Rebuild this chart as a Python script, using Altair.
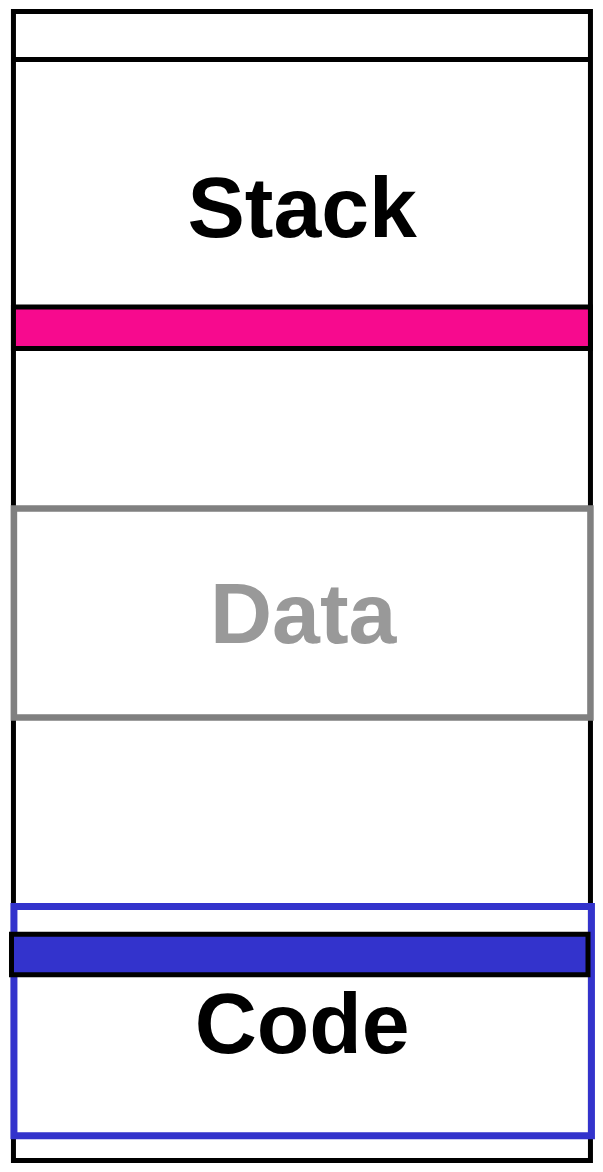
import altair as alt
import pandas as pd

# Memory map segment boundaries (in diagram units, top = 0)
outer_left, outer_right = [9], [598.5]
outer_top, outer_bottom = [6.5], [1169.5]
top_gap_line = [55]

stack_bar_top, stack_bar_bottom = [305.5], [347.5]
data_left, data_right = [9.5], [598.5]
data_top, data_bottom = [509.5], [721]
code_left, code_right = [9.5], [599.5]
code_top, code_bottom = [912.5], [1144.5]
code_bar_left, code_bar_right = [7], [596]
code_bar_top, code_bar_bottom = [940.5], [981.5]

labels = ["Stack", "Data", "Code"]
label_x = [304, 305, 304]
label_base = [235, 646, 1061]

X = alt.Scale(domain=[6.5, 601.1], nice=False, zero=False)
Y = alt.Scale(domain=[4.0, 1172.0], nice=False, zero=False, reverse=True)


def box(l, r, t, b, **mark):
    df = pd.DataFrame({"l": l, "r": r, "t": t, "b": b})
    return alt.Chart(df).mark_rect(clip=False, **mark).encode(
        x=alt.X("l:Q", scale=X, axis=None),
        x2="r:Q",
        y=alt.Y("t:Q", scale=Y, axis=None),
        y2="b:Q",
    )


outer = box(outer_left, outer_right, outer_top, outer_bottom,
            fill="transparent", stroke="#000000", strokeWidth=5)

gap_line = alt.Chart(pd.DataFrame({"l": outer_left, "r": outer_right, "y": top_gap_line})).mark_rule(
    color="#000000", strokeWidth=5, clip=False
).encode(
    x=alt.X("l:Q", scale=X, axis=None), x2="r:Q",
    y=alt.Y("y:Q", scale=Y, axis=None),
)

stack_bar = box(outer_left, outer_right, stack_bar_top, stack_bar_bottom,
                fill="#F70A8E", stroke="#000000", strokeWidth=5)

data_box = box(data_left, data_right, data_top, data_bottom,
               fill="transparent", stroke="#808080", strokeWidth=6.5)

code_box = box(code_left, code_right, code_top, code_bottom,
               fill="transparent", stroke="#3333CC", strokeWidth=7)

code_bar = box(code_bar_left, code_bar_right, code_bar_top, code_bar_bottom,
               fill="#3333CC", stroke="#000000", strokeWidth=5)

text_df = pd.DataFrame({"label": labels, "x": label_x, "y": label_base})
texts = alt.Chart(text_df).mark_text(
    font="Liberation Sans", fontWeight="bold", fontSize=86,
    align="center", baseline="alphabetic", clip=False
).encode(
    x=alt.X("x:Q", scale=X, axis=None),
    y=alt.Y("y:Q", scale=Y, axis=None),
    text="label:N",
    color=alt.Color("label:N", scale=alt.Scale(domain=labels, range=["#000000", "#999999", "#000000"]), legend=None),
)

chart = alt.layer(outer, gap_line, stack_bar, data_box, code_box, code_bar, texts).properties(
    width=587, height=1156,
    autosize=alt.AutoSizeParams(type="fit", contains="padding"),
    padding=0,
    background="white",
).configure_view(stroke=None)

chart.save("out.html", embed_options={"renderer": "svg", "actions": False})
